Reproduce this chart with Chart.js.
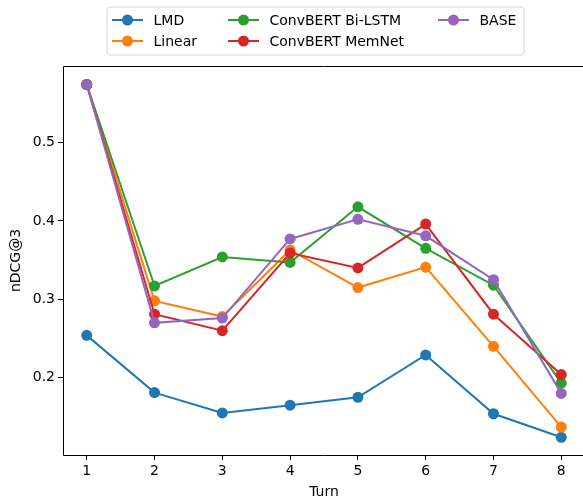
<!DOCTYPE html>
<html>
<head>
<meta charset="utf-8">
<script src="https://cdn.jsdelivr.net/npm/chart.js@4"></script>
<style>
  html, body { margin: 0; padding: 0; background: #fff; overflow: hidden; }
  #wrap { width: 600px; height: 502px; position: relative; }
</style>
</head>
<body>
<div id="wrap"><canvas id="chart"></canvas></div>
<script>
const turns = [1, 2, 3, 4, 5, 6, 7, 8];
const yTicks = [0.2, 0.3, 0.4, 0.5];

const seriesNames = ['LMD', 'Linear', 'ConvBERT Bi-LSTM', 'ConvBERT MemNet', 'BASE'];
const lmd    = [0.254, 0.181, 0.155, 0.165, 0.175, 0.229, 0.154, 0.124];
const linear = [0.574, 0.298, 0.278, 0.363, 0.315, 0.341, 0.240, 0.137];
const biLstm = [0.574, 0.317, 0.354, 0.347, 0.418, 0.365, 0.318, 0.193];
const memNet = [0.574, 0.281, 0.260, 0.359, 0.340, 0.396, 0.281, 0.204];
const base   = [0.574, 0.270, 0.276, 0.377, 0.402, 0.381, 0.325, 0.180];

const colors = ['#1f77b4', '#ff7f0e', '#2ca02c', '#d62728', '#9467bd'];
const allSeries = [lmd, linear, biLstm, memNet, base];
const FONT = '"DejaVu Sans", sans-serif';

const datasets = allSeries.map((vals, i) => ({
  label: seriesNames[i],
  data: vals.map((v, j) => ({ x: turns[j], y: v })),
  borderColor: colors[i],
  backgroundColor: colors[i],
  borderWidth: 2,
  pointRadius: 5.5,
  pointBorderWidth: 0,
  pointBackgroundColor: colors[i],
  order: allSeries.length - i,   // last series drawn on top, like matplotlib
  tension: 0
}));

// matplotlib style legend: 3 columns, filled column by column
const legendPlugin = {
  id: 'mplLegend',
  afterDraw(chart) {
    const ctx = chart.ctx;
    ctx.save();
    // box
    const bx = 107, by = 7, bw = 417, bh = 48, r = 3;
    ctx.beginPath();
    ctx.moveTo(bx + r, by);
    ctx.arcTo(bx + bw, by, bx + bw, by + bh, r);
    ctx.arcTo(bx + bw, by + bh, bx, by + bh, r);
    ctx.arcTo(bx, by + bh, bx, by, r);
    ctx.arcTo(bx, by, bx + bw, by, r);
    ctx.closePath();
    ctx.fillStyle = 'rgba(255,255,255,0.8)';
    ctx.fill();
    ctx.strokeStyle = '#d6d6d6';
    ctx.lineWidth = 1;
    ctx.stroke();

    const colX = [112, 228, 438];
    const rowY = [20, 41];
    ctx.font = '14px ' + FONT;
    ctx.textBaseline = 'middle';
    ctx.textAlign = 'left';
    chart.data.datasets.forEach((ds, i) => {
      const x0 = colX[Math.floor(i / 2)];
      const y = rowY[i % 2];
      ctx.strokeStyle = ds.borderColor;
      ctx.lineWidth = 2;
      ctx.beginPath();
      ctx.moveTo(x0, y);
      ctx.lineTo(x0 + 31, y);
      ctx.stroke();
      ctx.fillStyle = ds.borderColor;
      ctx.beginPath();
      ctx.arc(x0 + 15.5, y, 5.5, 0, Math.PI * 2);
      ctx.fill();
      ctx.fillStyle = '#000';
      ctx.fillText(ds.label, x0 + 41.5, y + 1);
    });
    ctx.restore();
  }
};

// axes spines: left, top, bottom (right one falls outside the picture)
const framePlugin = {
  id: 'frame',
  afterDatasetsDraw(chart) {
    const { ctx, chartArea: a } = chart;
    const l = Math.round(a.left) + 0.5, t = Math.round(a.top) + 0.5;
    const b = Math.round(a.bottom) + 0.5, r = Math.round(a.right) + 0.5;
    ctx.save();
    ctx.strokeStyle = '#000';
    ctx.lineWidth = 1;
    ctx.beginPath();
    ctx.moveTo(r, t);
    ctx.lineTo(l, t);
    ctx.lineTo(l, b);
    ctx.lineTo(r, b);
    ctx.stroke();
    ctx.restore();
  }
};

new Chart(document.getElementById('chart'), {
  type: 'line',
  data: { datasets },
  plugins: [legendPlugin, framePlugin],
  options: {
    responsive: true,
    maintainAspectRatio: false,
    animation: false,
    layout: { padding: { left: 0, top: 66, right: 15, bottom: 0 } },
    plugins: { legend: { display: false }, tooltip: { enabled: false } },
    scales: {
      x: {
        type: 'linear',
        min: 0.65,
        max: 8.35,
        afterBuildTicks: s => { s.ticks = turns.map(v => ({ value: v })); },
        afterFit: s => { s.height = 47; },
        grid: { drawOnChartArea: false, drawTicks: true, tickLength: 5, tickColor: '#000' },
        border: { display: false },
        ticks: { color: '#000', font: { family: FONT, size: 14 }, padding: 3, maxRotation: 0 },
        title: { display: true, text: 'Turn', color: '#000', font: { family: FONT, size: 14 }, padding: { top: 0, bottom: 1 } }
      },
      y: {
        min: 0.1014,
        max: 0.5976,
        afterBuildTicks: s => { s.ticks = yTicks.map(v => ({ value: v })); },
        afterFit: s => { s.width = 63; },
        grid: { drawOnChartArea: false, drawTicks: true, tickLength: 5, tickColor: '#000' },
        border: { display: false },
        ticks: { color: '#000', font: { family: FONT, size: 14 }, padding: 3, callback: v => v.toFixed(1) },
        title: { display: true, text: 'nDCG@3', color: '#000', font: { family: FONT, size: 14 }, padding: { top: 8, bottom: 0 } }
      }
    }
  }
});
</script>
</body>
</html>
